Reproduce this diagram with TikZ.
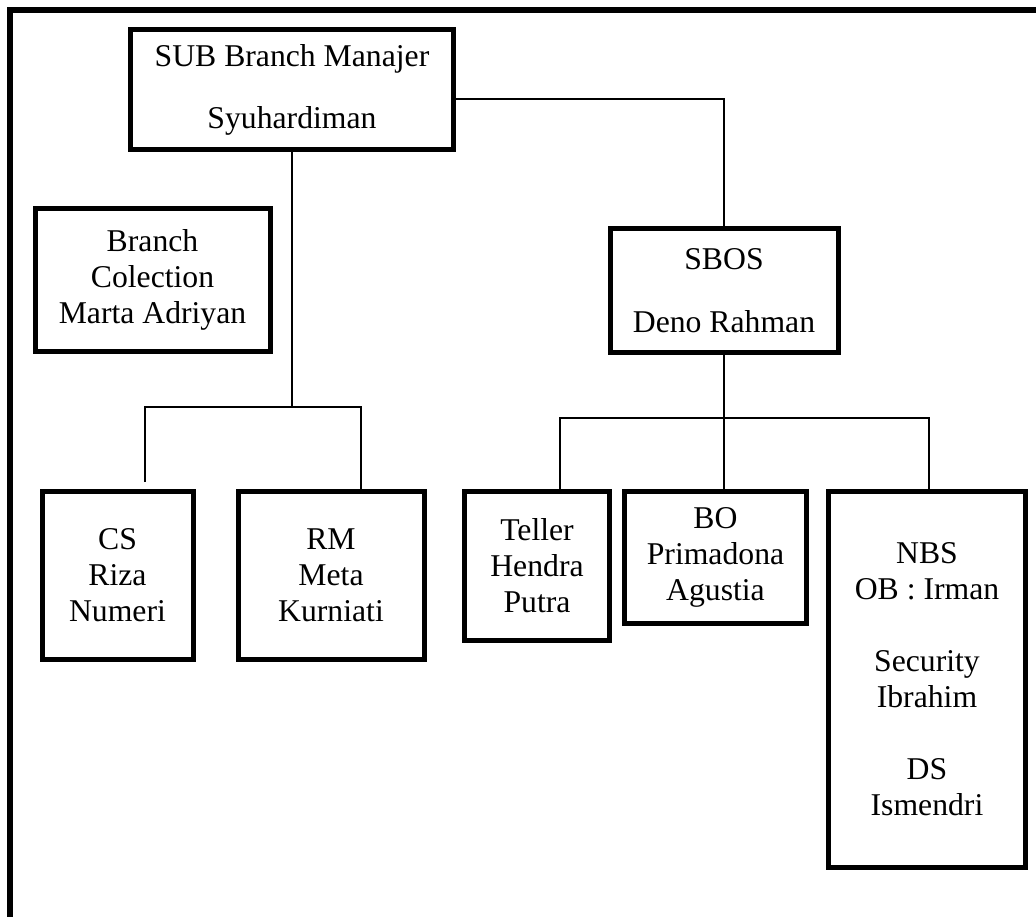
\documentclass[tikz,border=0pt]{standalone}
\usepackage{fontspec}
\setmainfont{Liberation Serif}
\begin{document}
\begin{tikzpicture}[x=1pt,y=-1pt,
  box/.style={draw,line width=5pt,inner sep=0pt,align=center,font=\fontsize{31.7}{36}\selectfont},
  link/.style={line width=1.5pt},
  frame/.style={line width=5.5pt}]
\useasboundingbox (0,0) rectangle (1036,917);
\draw[frame] (10,925) -- (10,10) -- (1045,10);

\node[box,minimum width=323pt,minimum height=120pt] (sub) at (292,89.5) {SUB Branch Manajer\\[26pt]Syuhardiman};
\node[box,minimum width=235pt,minimum height=142pt] (col) at (152.5,280) {Branch\\Colection\\Marta Adriyan};
\node[box,minimum width=151pt,minimum height=168pt] (cs) at (117.5,575) {CS\\Riza\\Numeri};
\node[box,minimum width=186pt,minimum height=168pt] (rm) at (331,575) {RM\\Meta\\Kurniati};

\node[box,minimum width=228pt,minimum height=123pt] (sbos) at (724,290.5) {SBOS\\[27pt]Deno Rahman};
\node[box,minimum width=145pt,minimum height=149pt] (tel) at (537,566) {Teller\\Hendra\\Putra};
\node[box,minimum width=182pt,minimum height=132pt] (bo) at (715.5,557.5) {BO\\Primadona\\Agustia};
\node[box,minimum width=197pt,minimum height=376pt] (nbs) at (927,679.5) {NBS\\OB : Irman\\[36pt]Security\\Ibrahim\\[36pt]DS\\Ismendri};

\coordinate (lbar) at (292,407);
\coordinate (csend) at (145,482);
\coordinate (rmend) at ([xshift=30pt]rm.north);
\coordinate (rbar) at (724,418);
\coordinate (telend) at ([xshift=23pt]tel.north);

\draw[link] ([yshift=-9.5pt]sub.east) -| (sbos.north);
\draw[link] (sub.south) -- (lbar);
\draw[link] (csend) |- (lbar) -| (rmend);
\draw[link] (sbos.south) -- (sbos.south |- bo.north);
\draw[link] (telend) |- (rbar) -| ([xshift=2pt]nbs.north);
\end{tikzpicture}
\end{document}
